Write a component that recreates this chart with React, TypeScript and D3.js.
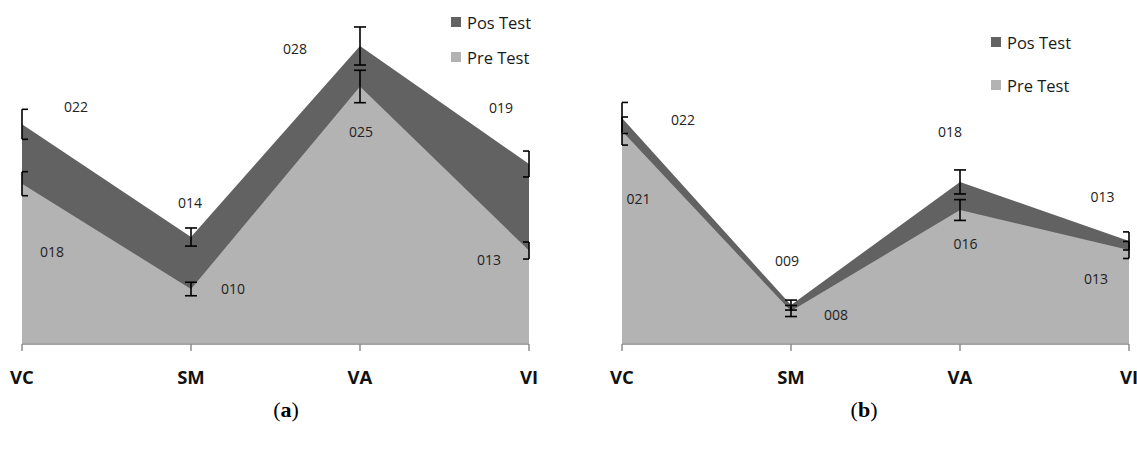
import React from 'react';
import * as d3 from 'd3';

const categories = ['VC', 'SM', 'VA', 'VI'];
const seriesNames = ['Pos Test', 'Pre Test'];

// Panel (a)
const posA = [22.2, 13.85, 28.0, 19.26];
const preA = [17.8, 10.0, 25.0, 12.85];
const posErrA = [1.11, 0.67, 1.41, 0.96];
const preErrA = [0.89, 0.5, 1.2, 0.63];
const posLabelsA = ['022', '014', '028', '019'];
const preLabelsA = ['018', '010', '025', '013'];

// Panel (b)
const posB = [22.67, 8.81, 17.93, 13.56];
const preB = [21.7, 8.37, 15.85, 12.89];
const posErrB = [1.15, 0.37, 0.89, 0.67];
const preErrB = [1.04, 0.41, 0.77, 0.63];
const posLabelsB = ['022', '009', '018', '013'];
const preLabelsB = ['021', '008', '016', '013'];

const yDomain: [number, number] = [6, 30];

const DARK = '#626262';
const LIGHT = '#b3b3b3';
const FONT = "'Open Sans', sans-serif";

type PanelProps = {
  x0: number;
  x1: number;
  pos: number[];
  pre: number[];
  posErr: number[];
  preErr: number[];
  posLabels: string[];
  preLabels: string[];
  posOff: [number, number][];
  preOff: [number, number][];
  legendX: number;
  legendY: number[];
  caption: string;
  captionX: number;
};

function Panel(p: PanelProps) {
  const baseY = 343;
  const x = d3.scalePoint<string>().domain(categories).range([p.x0, p.x1]).padding(0);
  const y = d3.scaleLinear().domain(yDomain).range([baseY, 19]);
  const area = d3
    .area<number>()
    .x((_, i) => x(categories[i]) as number)
    .y0(baseY)
    .y1((d) => y(d));

  const errBars = (vals: number[], errs: number[], key: string) =>
    vals.map((v, i) => {
      const cx = x(categories[i]) as number;
      const top = y(v + errs[i]);
      const bot = y(v - errs[i]);
      const l = Math.max(p.x0, cx - 6);
      const r = Math.min(p.x1, cx + 6);
      return (
        <g key={key + i} stroke="#000" strokeWidth={1.6}>
          <line x1={cx} x2={cx} y1={top} y2={bot} />
          <line x1={l} x2={r} y1={top} y2={top} />
          <line x1={l} x2={r} y1={bot} y2={bot} />
        </g>
      );
    });

  return (
    <g>
      <path d={area(p.pos) || ''} fill={DARK} />
      <path d={area(p.pre) || ''} fill={LIGHT} />
      {/* axis */}
      <line x1={p.x0} x2={p.x1} y1={baseY + 1} y2={baseY + 1} stroke="#878787" strokeWidth={1.6} />
      {categories.map((c) => (
        <line
          key={'t' + c}
          x1={x(c) as number}
          x2={x(c) as number}
          y1={baseY + 1}
          y2={baseY + 8}
          stroke="#878787"
          strokeWidth={1.4}
        />
      ))}
      {categories.map((c) => (
        <text
          key={'c' + c}
          x={x(c) as number}
          y={376}
          textAnchor="middle"
          dominantBaseline="central"
          fontFamily={FONT}
          fontWeight="bold"
          fontSize={18.5}
          fill="#111"
        >
          {c}
        </text>
      ))}
      {errBars(p.pos, p.posErr, 'ep')}
      {errBars(p.pre, p.preErr, 'er')}
      {p.pos.map((v, i) => (
        <text
          key={'lp' + i}
          x={(x(categories[i]) as number) + p.posOff[i][0]}
          y={y(v) + p.posOff[i][1]}
          textAnchor="middle"
          dominantBaseline="central"
          fontFamily={FONT}
          fontSize={14}
          fill="#222"
        >
          {p.posLabels[i]}
        </text>
      ))}
      {p.pre.map((v, i) => (
        <text
          key={'lr' + i}
          x={(x(categories[i]) as number) + p.preOff[i][0]}
          y={y(v) + p.preOff[i][1]}
          textAnchor="middle"
          dominantBaseline="central"
          fontFamily={FONT}
          fontSize={14}
          fill="#222"
        >
          {p.preLabels[i]}
        </text>
      ))}
      {/* legend */}
      {seriesNames.map((s, i) => (
        <g key={'lg' + s}>
          <rect x={p.legendX} y={p.legendY[i] - 5} width={10} height={10} fill={i === 0 ? DARK : LIGHT} />
          <text
            x={p.legendX + 16}
            y={p.legendY[i]}
            dominantBaseline="central"
            fontFamily={FONT}
            fontSize={16.5}
            fill="#1a1a1a"
          >
            {s}
          </text>
        </g>
      ))}
      <text x={p.captionX} y={417} textAnchor="middle" fontFamily="'Liberation Serif', serif" fontSize={22} fill="#000">
        (<tspan fontWeight="bold">{p.caption}</tspan>)
      </text>
    </g>
  );
}

export default function App() {
  return (
    <div style={{ position: 'absolute', left: 0, top: 0 }}>
      <svg width={1137} height={451} style={{ display: 'block', background: '#fff' }}>
        <Panel
          x0={22}
          x1={529}
          pos={posA}
          pre={preA}
          posErr={posErrA}
          preErr={preErrA}
          posLabels={posLabelsA}
          preLabels={preLabelsA}
          posOff={[[54, -18], [-1, -35], [-65, 2], [-28, -56]]}
          preOff={[[30, 68], [42, -1], [1, 45], [-40, 9]]}
          legendX={451}
          legendY={[22, 57]}
          caption="a"
          captionX={286}
        />
        <Panel
          x0={622}
          x1={1129}
          pos={posB}
          pre={preB}
          posErr={posErrB}
          preErr={preErrB}
          posLabels={posLabelsB}
          preLabels={preLabelsB}
          posOff={[[61, 1.5], [-4, -45], [-10, -50], [-26.5, -44]]}
          preOff={[[16.5, 67], [45, 3], [5.5, 33.5], [-33, 29]]}
          legendX={991}
          legendY={[42, 85]}
          caption="b"
          captionX={864}
        />
      </svg>
    </div>
  );
}
